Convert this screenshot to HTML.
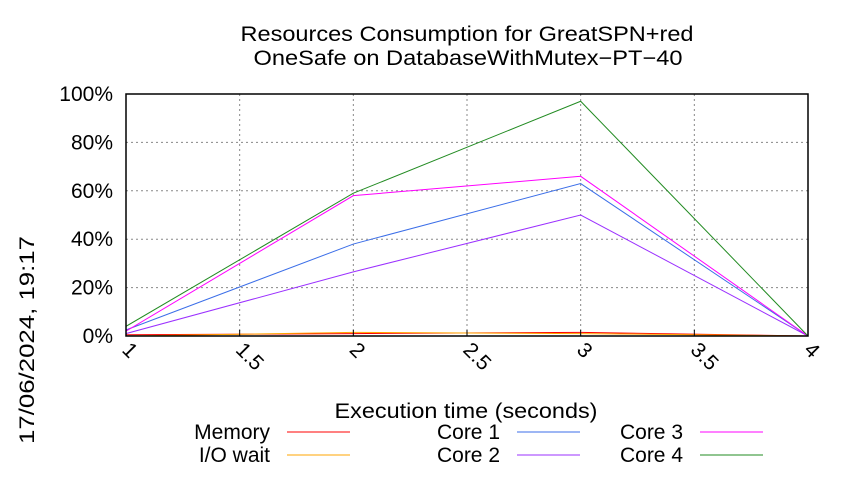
<!DOCTYPE html>
<html><head><meta charset="utf-8"><style>
body{margin:0;background:#fff;}
svg text{font-family:"Liberation Sans",sans-serif;fill:#000;}
</style></head><body>
<svg id="chart" width="850" height="475">
<text x="467" y="41" font-size="21" text-anchor="middle" textLength="453" lengthAdjust="spacingAndGlyphs">Resources Consumption for GreatSPN+red</text>
<text x="468" y="65" font-size="21" text-anchor="middle" textLength="429" lengthAdjust="spacingAndGlyphs">OneSafe on DatabaseWithMutex−PT−40</text>
<g id="grid"></g>
<g id="series"></g>
<rect x="126" y="94" width="682" height="242" fill="none" stroke="#000" stroke-width="1.5"/>
<g id="axes"></g>
<text x="466" y="418" font-size="21" text-anchor="middle" textLength="263" lengthAdjust="spacingAndGlyphs">Execution time (seconds)</text>
<text transform="translate(34,340) rotate(-90)" font-size="21" text-anchor="middle" textLength="208" lengthAdjust="spacingAndGlyphs">17/06/2024, 19:17</text>
<g id="legend"></g>
</svg>
<script>
const xTicks=[1,1.5,2,2.5,3,3.5,4];
const yTicks=[0,20,40,60,80,100];
const times=[1,2,3,4];
const memory=[0.5,1,1.5,0];
const ioWait=[0,1.5,1,0];
const core1=[2.5,38,63,0];
const core2=[1,26.5,50,0];
const core3=[2,58,66,0];
const core4=[4,59,97,0];
const seriesList=[["Memory",memory,"#ff0000"],["I/O wait",ioWait,"#ffa500"],["Core 1",core1,"#3b6ee8"],["Core 2",core2,"#9b30ff"],["Core 3",core3,"#ff00ff"],["Core 4",core4,"#228b22"]];
const NS="http://www.w3.org/2000/svg";
const X=v=>126+(v-1)/3*682, Y=v=>336-v/100*242;
function mk(t,a,p){const e=document.createElementNS(NS,t);for(const k in a)e.setAttribute(k,a[k]);p.appendChild(e);return e;}
const grid=document.getElementById('grid'),axes=document.getElementById('axes'),ser=document.getElementById('series'),leg=document.getElementById('legend');
xTicks.forEach(t=>{
 const g=mk('line',{x1:X(t),x2:X(t),y1:94,y2:336,stroke:'#888','stroke-dasharray':'2,3'},grid);
 
 
 const tk=mk('line',{x1:X(t),x2:X(t),y1:336,y2:330,stroke:'#000'},axes);
 
 
 const tx=mk('text',{'font-size':21,transform:`translate(${X(t)-5},${351}) rotate(45)`},axes);
 tx.textContent=t;
 
 
});
yTicks.forEach(t=>{
 const g=mk('line',{x1:126,x2:808,y1:Y(t),y2:Y(t),stroke:'#888','stroke-dasharray':'2,3'},grid);
 
 
 const tx=mk('text',{x:113,y:Y(t)+7,'font-size':21,'text-anchor':'end'},axes);
 tx.textContent=t+'%';
 
 
});
const legPos=[[270,432],[270,455],[500,432],[500,455],[683,432],[683,455]];
seriesList.forEach((s,i)=>{
 const pl=mk('polyline',{points:times.map((t,j)=>X(t)+','+Y(s[1][j])).join(' '),fill:'none',stroke:s[2],'stroke-width':1},ser);
 
 
 const [lx,ly]=legPos[i];
 const tx=mk('text',{x:lx,y:ly+7,'font-size':21,'text-anchor':'end'},leg);
 tx.textContent=s[0];
 
 
 const ln=mk('line',{x1:lx+17,x2:lx+80,y1:ly,y2:ly,stroke:s[2]},leg);
 
 
});
</script>
</body></html>
